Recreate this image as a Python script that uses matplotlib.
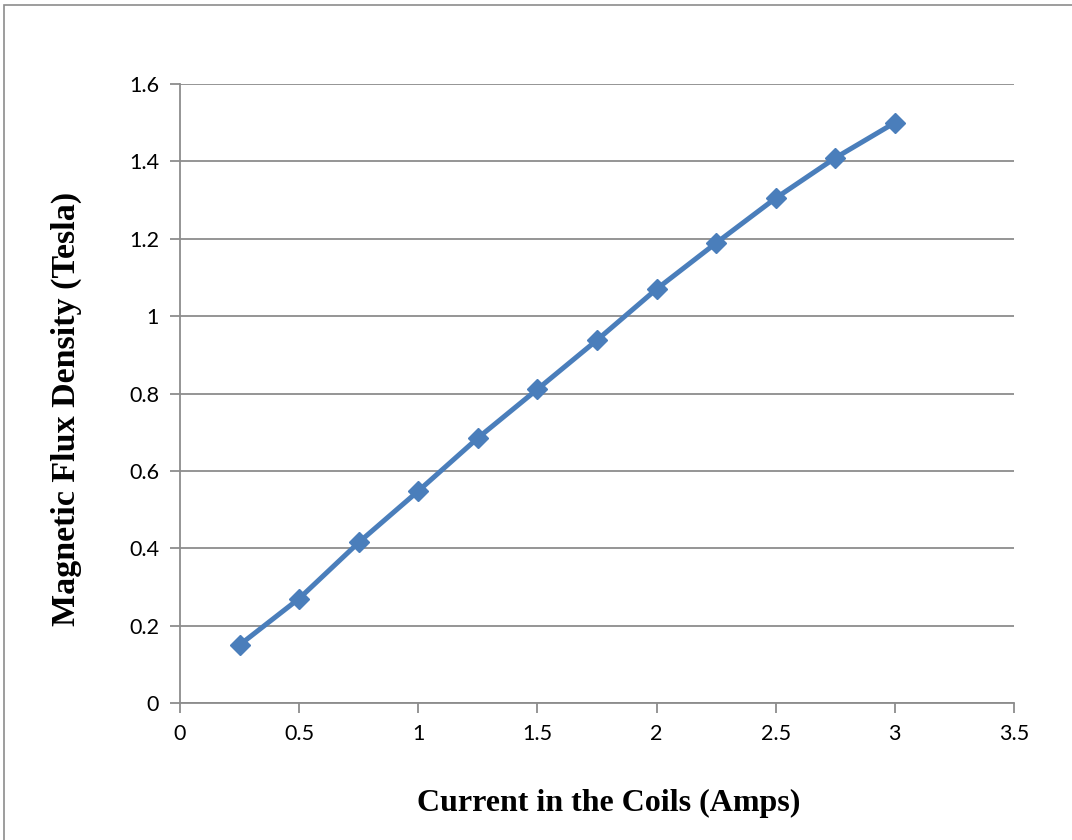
import numpy as np
import matplotlib.pyplot as plt
from matplotlib.patches import Rectangle

# coil current (A) vs measured flux density (T)
current = [0.25, 0.5, 0.75, 1.0, 1.25, 1.5, 1.75, 2.0, 2.25, 2.5, 2.75, 3.0]
flux = [0.15, 0.27, 0.415, 0.548, 0.685, 0.811, 0.938, 1.07, 1.189, 1.305, 1.409, 1.5]

x_ticks = [0, 0.5, 1, 1.5, 2, 2.5, 3, 3.5]
x_tick_labels = ['0', '0.5', '1', '1.5', '2', '2.5', '3', '3.5']
y_ticks = [0, 0.2, 0.4, 0.6, 0.8, 1.0, 1.2, 1.4, 1.6]
y_tick_labels = ['0', '0.2', '0.4', '0.6', '0.8', '1', '1.2', '1.4', '1.6']

blue = '#4A7EBB'
grid_grey = '#8C8C8C'

fig = plt.figure(figsize=(10.72, 8.4), dpi=100)
fig.patches.append(Rectangle((4 / 1072, -0.01), 1.1, (840 - 5) / 840 + 0.01,
                             transform=fig.transFigure, fill=False,
                             edgecolor='#8C8C8C', linewidth=1.2))

ax = fig.add_axes([180 / 1072, 137 / 840, 834 / 1072, 619 / 840])
ax.plot(current, flux, color=blue, linewidth=3.6, marker='D', markersize=10.5,
        markerfacecolor=blue, markeredgecolor=blue, zorder=3)

ax.set_xlim(0, 3.5)
ax.set_ylim(0, 1.6)
ax.set_xticks(x_ticks)
ax.set_xticklabels(x_tick_labels)
ax.set_yticks(y_ticks)
ax.set_yticklabels(y_tick_labels)
ax.grid(axis='y', color=grid_grey, linewidth=1.3)
ax.set_axisbelow(True)

for side in ['top', 'right']:
    ax.spines[side].set_visible(False)
for side in ['left', 'bottom']:
    ax.spines[side].set_color(grid_grey)
    ax.spines[side].set_linewidth(1.3)

ax.tick_params(axis='both', direction='out', length=7, width=1.3,
               color=grid_grey, labelsize=15.5, pad=8)
for lbl in ax.get_xticklabels() + ax.get_yticklabels():
    lbl.set_fontfamily('Lato')

ax.set_xlabel('Current in the Coils (Amps)', fontfamily='Liberation Serif',
              fontweight='bold', fontsize=23)
ax.set_ylabel('Magnetic Flux Density (Tesla)', fontfamily='Liberation Serif',
              fontweight='bold', fontsize=24.5)
ax.xaxis.set_label_coords(0.514, -0.139)
ax.yaxis.set_label_coords(-0.117, 0.475)

fig.savefig('out.png', dpi=100)
